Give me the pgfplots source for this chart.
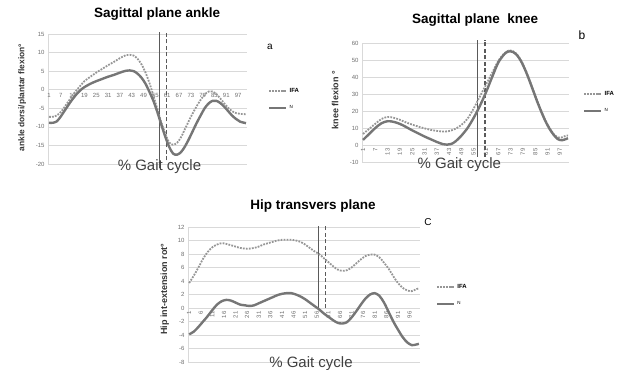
\documentclass[border=0pt]{standalone}
\usepackage{fontspec}
\setmainfont{Liberation Sans}
\usepackage{pgfplots}
\pgfplotsset{compat=1.18}
\definecolor{gridc}{RGB}{217,217,217}
\definecolor{nline}{RGB}{118,118,118}
\definecolor{iline}{RGB}{150,150,150}
\definecolor{vline}{RGB}{90,90,90}
\definecolor{tickc}{RGB}{110,110,110}
\pgfplotsset{
 gaitax/.style={
  scale only axis, clip=false,
  axis x line=middle, axis y line=left,
  axis line style={draw=gridc, line width=0.6pt, -},
  ymajorgrids, grid style={draw=gridc, line width=0.6pt},
  major tick length=0pt,
  /pgf/number format/assume math mode=true,
  tick label style={font=\fontsize{6}{7}\selectfont, text=tickc},
  ylabel style={font=\bfseries\fontsize{9}{10}\selectfont, text=black!80, anchor=center},
  xlabel style={font=\fontsize{15}{17}\selectfont, text=black!75, anchor=center},
  title style={font=\bfseries\fontsize{13.5}{15}\selectfont, anchor=center, yshift=-6pt},
  legend style={draw=none, fill=none, font=\bfseries\fontsize{6}{7}\selectfont, row sep=8pt, anchor=north west},
  legend cell align=left,
 },
 nser/.style={color=nline, line width=2.4pt, smooth},
 iser/.style={color=iline, line width=1.8pt, dash pattern=on 1.8pt off 1.2pt, smooth},
 vsol/.style={color=vline, line width=1.1pt, forget plot},
 vdash/.style={color=vline, line width=1.1pt, dash pattern=on 4pt off 2.5pt, forget plot},
}
\begin{document}
\begin{tikzpicture}[x=1pt,y=1pt]
\path[use as bounding box] (0,0) rectangle (628,369);
% ---------------- a: ankle
\begin{axis}[gaitax, at={(48pt,205pt)}, anchor=south west,
  width=199pt, height=130pt,
  xmin=0.5, xmax=101.5, ymin=-20, ymax=15,
  ytick={-20,-15,...,15}, xtick={1,7,...,97},
  title={Sagittal plane ankle}, title style={at={(axis description cs:0.548,1.154)}},
  ylabel={ankle dorsi/plantar flexion°}, ylabel style={at={(axis description cs:-0.13,0.51)}, font=\bfseries\fontsize{8.4}{10}\selectfont},
  xlabel={\% Gait cycle}, xlabel style={at={(axis description cs:0.56,-0.02)}},
  legend style={at={(axis description cs:1.09,0.615)}},
]
\addplot[vsol] coordinates {(57,-21) (57,15.5)};
\addplot[vdash] coordinates {(60.5,-19) (60.5,15.5)};
\addplot[iser] coordinates {
(1,-7.3)(4,-7.2)(7,-6.0)(10,-3.8)(13,-1.5)(16,0.5)(19,2.3)(22,3.5)(25,4.6)(28,5.6)
(31,6.6)(34,7.5)(37,8.5)(40,9.3)(42,9.4)(44,9.2)(46,8.3)(48,6.8)(50,4.6)(52,1.8)
(54,-1.6)(56,-5.2)(58,-8.8)(60,-11.8)(62,-14.2)(64,-14.8)(66,-14.3)(68,-12.8)(70,-10.6)
(72,-8.4)(74,-6.3)(76,-4.4)(78,-2.7)(80,-1.3)(82,-0.5)(84,-0.5)(86,-1.2)(88,-2.4)
(90,-3.7)(92,-4.9)(94,-5.8)(96,-6.3)(98,-6.5)(101,-6.6)};
\addplot[nser] coordinates {
(1,-8.9)(3,-8.9)(5,-8.5)(7,-7.2)(9,-5.6)(11,-4.0)(13,-2.5)(15,-1.2)(17,-0.1)(19,0.7)
(22,1.6)(25,2.3)(28,2.9)(31,3.5)(34,4.0)(37,4.6)(40,5.1)(42,5.2)(44,5.0)(46,4.3)
(48,3.2)(50,1.6)(52,-0.6)(54,-3.0)(56,-6.0)(58,-9.4)(60,-12.6)(62,-15.4)(64,-17.2)
(66,-17.5)(68,-16.8)(70,-15.3)(72,-13.3)(74,-11.1)(76,-8.9)(78,-6.9)(80,-5.0)(82,-3.7)
(84,-3.0)(86,-3.0)(88,-3.6)(90,-4.6)(92,-5.8)(94,-7.0)(96,-7.9)(98,-8.6)(101,-9.0)};
\legend{IFA,{\mdseries\fontsize{4.5}{5}\selectfont N}}
\end{axis}
% ---------------- b: knee
\begin{axis}[gaitax, at={(362pt,207pt)}, anchor=south west,
  width=207pt, height=119pt,
  xmin=0.5, xmax=101.5, ymin=-10, ymax=60,
  ytick={-10,0,...,60}, xtick={1,7,...,97},
  xticklabel style={rotate=90, anchor=east},
  title={Sagittal plane\ \ knee}, title style={at={(axis description cs:0.546,1.193)}},
  ylabel={knee flexion °}, ylabel style={at={(axis description cs:-0.13,0.52)}},
  xlabel={\% Gait cycle}, xlabel style={at={(axis description cs:0.47,-0.025)}},
  legend style={at={(axis description cs:1.053,0.63)}},
]
\addplot[vsol] coordinates {(57,-7) (57,62)};
\addplot[vdash] coordinates {(60.5,-7) (60.5,62)};
\addplot[iser] coordinates {
(1,6.5)(4,9.5)(7,12.5)(10,15.3)(13,16.5)(16,16.0)(19,14.8)(22,13.3)(25,12.0)(28,10.8)
(31,9.8)(34,8.9)(37,8.3)(40,7.9)(43,8.2)(46,9.5)(49,11.8)(52,15.5)(55,21.5)(58,28.5)
(61,35.5)(64,42.5)(67,49.5)(70,54.0)(72,55.5)(74,55.3)(76,53.5)(78,50.0)(80,45.0)
(82,39.0)(84,32.5)(86,26.0)(88,20.0)(90,14.5)(92,10.0)(94,6.5)(96,4.5)(98,4.5)(100,5.5)(101,5.5)};
\addplot[nser] coordinates {
(1,3.0)(4,6.5)(7,10.0)(10,12.8)(13,14.0)(16,13.6)(19,12.4)(22,10.6)(25,8.6)(28,6.8)
(31,5.0)(34,3.4)(37,1.8)(40,0.5)(42,0.2)(44,0.6)(46,2.0)(49,5.5)(52,10.0)(55,16.0)
(58,23.0)(61,31.0)(64,40.0)(67,48.5)(70,53.5)(72,55.0)(74,54.8)(76,53.0)(78,49.5)
(80,44.5)(82,38.5)(84,32.0)(86,25.5)(88,19.5)(90,14.0)(92,9.5)(94,6.0)(96,3.5)(98,2.8)(100,3.5)(101,4.0)};
\legend{IFA,{\mdseries\fontsize{4.5}{5}\selectfont N}}
\end{axis}
% ---------------- c: hip
\begin{axis}[gaitax, at={(188pt,7pt)}, anchor=south west,
  width=232pt, height=135pt,
  xmin=0.5, xmax=100.5, ymin=-8, ymax=12,
  ytick={-8,-6,...,12}, xtick={1,6,...,96},
  xticklabel style={rotate=90, anchor=east},
  title={Hip transvers plane}, title style={at={(axis description cs:0.539,1.156)}},
  ylabel={Hip int-extension rot°}, ylabel style={at={(axis description cs:-0.10,0.54)}},
  xlabel={\% Gait cycle}, xlabel style={at={(axis description cs:0.53,-0.01)}},
  legend style={at={(axis description cs:1.055,0.607)}},
]
\addplot[vsol] coordinates {(56.6,0) (56.6,12.2)};
\addplot[vdash] coordinates {(59.6,0) (59.6,12.2)};
\addplot[iser] coordinates {
(1,3.7)(3,4.8)(5,6.0)(7,7.3)(9,8.3)(11,9.0)(13,9.4)(15,9.6)(17,9.5)(19,9.3)(21,9.1)
(23,8.9)(25,8.8)(27,8.8)(29,8.9)(31,9.1)(33,9.4)(35,9.6)(37,9.8)(39,10.0)(41,10.1)
(43,10.1)(45,10.1)(47,10.0)(49,9.8)(51,9.4)(53,8.9)(55,8.4)(57,8.0)(59,7.4)(61,6.8)
(63,6.2)(65,5.7)(67,5.5)(69,5.6)(71,6.0)(73,6.6)(75,7.2)(77,7.7)(79,7.9)(81,7.9)
(83,7.5)(85,6.7)(87,5.8)(89,4.7)(91,3.7)(93,3.0)(95,2.6)(97,2.5)(99,2.8)(100,2.9)};
\addplot[nser] coordinates {
(1,-3.9)(3,-3.5)(5,-2.8)(7,-2.0)(9,-1.2)(11,-0.3)(13,0.5)(15,1.0)(17,1.2)(19,1.1)(21,0.8)
(23,0.5)(25,0.4)(27,0.3)(29,0.4)(31,0.7)(33,1.0)(35,1.3)(37,1.6)(39,1.9)(41,2.1)
(43,2.2)(45,2.2)(47,2.0)(49,1.7)(51,1.3)(53,0.8)(55,0.3)(57,-0.2)(59,-0.8)(61,-1.3)
(63,-1.8)(65,-2.2)(67,-2.3)(69,-2.1)(71,-1.4)(73,-0.5)(75,0.5)(77,1.4)(79,2.0)(81,2.2)
(83,1.8)(85,0.8)(87,-0.6)(89,-2.0)(91,-3.2)(93,-4.3)(95,-5.1)(97,-5.5)(99,-5.4)(100,-5.3)};
\legend{IFA,{\mdseries\fontsize{4.5}{5}\selectfont N}}
\end{axis}
\node[font=\fontsize{10}{12}\selectfont] at (270,322) {a};
\node[font=\fontsize{12}{14}\selectfont] at (582,334) {b};
\node[font=\fontsize{10}{12}\selectfont] at (428,147) {C};
\end{tikzpicture}
\end{document}
